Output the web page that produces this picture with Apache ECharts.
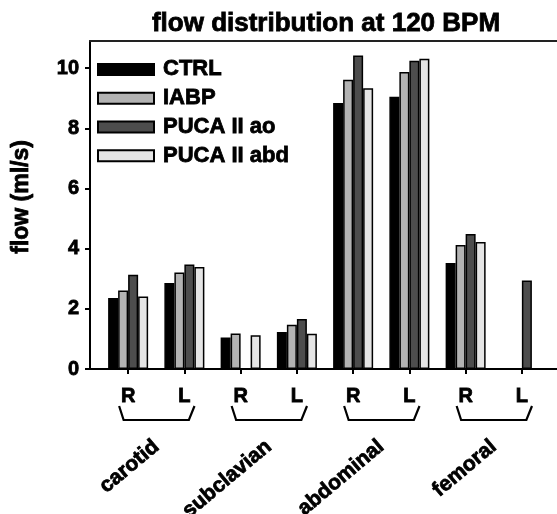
<!DOCTYPE html>
<html>
<head>
<meta charset="utf-8">
<script src="https://cdn.jsdelivr.net/npm/echarts@6/dist/echarts.min.js"></script>
<style>
  html, body { margin: 0; padding: 0; background: #fff; }
  #chart { width: 557px; height: 514px; }
</style>
</head>
<body>
<div id="chart"></div>
<script>
  // categories
  var sides = ['R', 'L', 'R', 'L', 'R', 'L', 'R', 'L'];
  var groups = ['carotid', 'subclavian', 'abdominal', 'femoral'];
  var seriesNames = ['CTRL', 'IABP', 'PUCA II ao', 'PUCA II abd'];

  // flow (ml/s), null = no bar
  var ctrl    = [2.36, 2.86, 1.05, 1.23, 8.84, 9.05, 3.52, null];
  var iabp    = [2.61, 3.21, 1.18, 1.47, 9.61, 9.87, 4.12, null];
  var pucaAo  = [3.13, 3.47, null, 1.66, 10.42, 10.24, 4.49, 2.94];
  var pucaAbd = [2.41, 3.39, 1.12, 1.17, 9.33, 10.31, 4.22, null];

  var yMin = 0, yMax = 10.9, yStep = 2;

  var colors = ['#000000', '#b3b3b3', '#4d4d4d', '#e5e5e5'];
  var font = 'Liberation Sans';
  // heavy bold text like the original
  function txt(size, extra) {
    var s = { fontFamily: font, fontWeight: 'bold', fontSize: size, color: '#000',
      textBorderColor: '#000', textBorderWidth: 0.8 };
    for (var k in extra) s[k] = extra[k];
    return s;
  }

  var chart = echarts.init(document.getElementById('chart'));

  function barSeries(i, data) {
    return {
      name: seriesNames[i],
      type: 'bar',
      xAxisIndex: 2,
      yAxisIndex: 1,
      data: data,
      barWidth: 10,
      barGap: '0%',
      itemStyle: { color: colors[i], borderColor: '#000', borderWidth: 1.5 },
      emphasis: { disabled: true }
    };
  }

  // group braces under each R/L pair
  function renderBrace(params, api) {
    var c = api.coord([api.value(0), 0]);
    var w = api.size([1, 0])[0];
    var yTop = c[1] + 37, yBot = c[1] + 51;
    return {
      type: 'polyline',
      shape: { points: [
        [c[0] - w * 0.33, yTop], [c[0] - w * 0.29, yBot],
        [c[0] + w * 0.29, yBot], [c[0] + w * 0.34, yTop]
      ] },
      style: { stroke: '#000', lineWidth: 2.2, fill: null }
    };
  }

  var option = {
    animation: false,
    title: {
      text: 'flow distribution at 120 BPM',
      left: 321, top: 6, textAlign: 'center',
      textStyle: txt(26)
    },
    legend: {
      data: seriesNames,
      orient: 'vertical',
      left: 97, top: 58, padding: 0,
      icon: 'rect',
      itemWidth: 56, itemHeight: 11, itemGap: 6,
      selectedMode: false,
      textStyle: txt(22, { lineHeight: 22, padding: [0, 0, 0, 4] })
    },
    grid: [
      { left: 90, right: 0, top: 41, bottom: 145, outerBoundsMode: 'none' },
      { left: 100, right: 7, top: 41, bottom: 145, outerBoundsMode: 'none' }
    ],
    xAxis: [
      { gridIndex: 0, type: 'value', min: 0, max: 1, position: 'bottom',
        axisLine: { show: true, lineStyle: { color: '#000', width: 2 } },
        axisTick: { show: false }, axisLabel: { show: false }, splitLine: { show: false } },
      { gridIndex: 0, type: 'value', min: 0, max: 1, position: 'top',
        axisLine: { show: true, lineStyle: { color: '#222', width: 2 } },
        axisTick: { show: false }, axisLabel: { show: false }, splitLine: { show: false } },
      { gridIndex: 1, type: 'category', data: sides, position: 'bottom',
        axisLine: { show: false },
        axisTick: { show: true, alignWithLabel: true, length: 5, lineStyle: { color: '#000', width: 2 } },
        axisLabel: txt(20, { margin: 17 }) },
      { gridIndex: 1, type: 'category', data: groups, position: 'bottom',
        axisLine: { show: false }, axisTick: { show: false },
        axisLabel: txt(21, { rotate: 40, margin: 75 }) }
    ],
    yAxis: [
      { gridIndex: 0, type: 'value', min: yMin, max: yMax, interval: yStep,
        name: 'flow (ml/s)', nameLocation: 'middle', nameGap: 57,
        nameTextStyle: txt(23, { padding: [0, 0, 0, 16] }),
        axisLine: { show: true, lineStyle: { color: '#000', width: 2 } },
        axisTick: { show: true, length: 5, lineStyle: { color: '#000', width: 2 } },
        axisLabel: txt(20, { margin: 11, showMaxLabel: false }),
        splitLine: { show: false } },
      { gridIndex: 1, type: 'value', min: yMin, max: yMax, interval: yStep, show: false, splitLine: { show: false } }
    ],
    series: [
      barSeries(0, ctrl),
      barSeries(1, iabp),
      barSeries(2, pucaAo),
      barSeries(3, pucaAbd),
      {
        type: 'custom',
        xAxisIndex: 3,
        yAxisIndex: 1,
        clip: false,
        silent: true,
        renderItem: renderBrace,
        data: groups.map(function (g) { return [g]; })
      }
    ]
  };

  chart.setOption(option);
</script>
</body>
</html>
